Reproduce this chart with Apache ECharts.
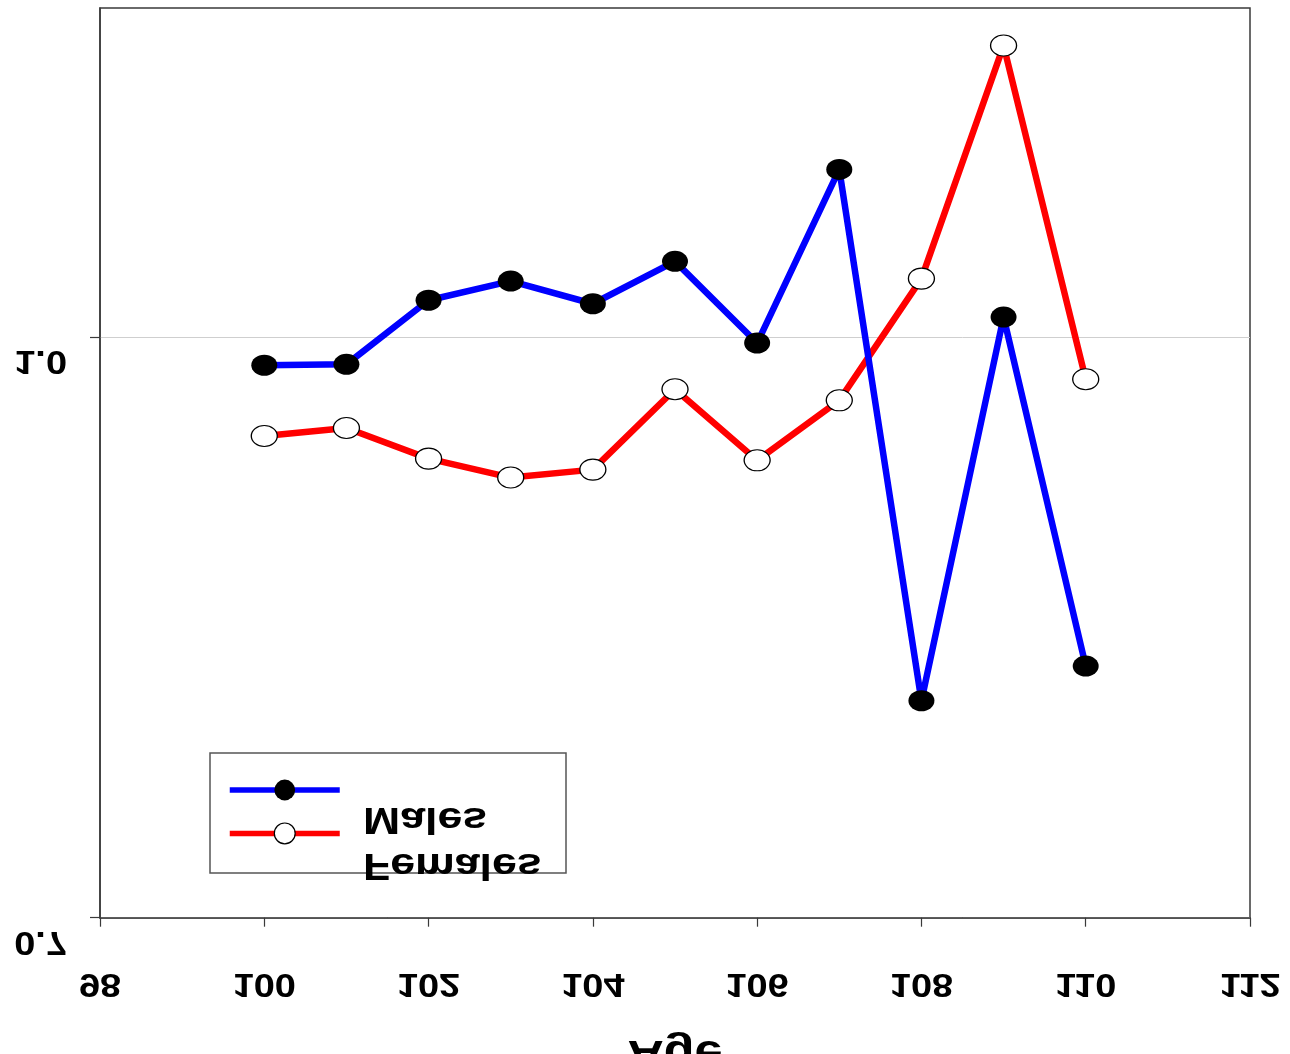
<!DOCTYPE html>
<html>
<head>
<meta charset="utf-8">
<title>Age</title>
<script src="https://cdn.jsdelivr.net/npm/echarts@6/dist/echarts.min.js"></script>
<style>
  html, body { margin: 0; padding: 0; background: #fff; }
  #chart { width: 1290px; height: 1054px; }
</style>
</head>
<body>
<div id="chart"></div>
<script>
// Ages on the x axis
const ages = [100, 101, 102, 103, 104, 105, 106, 107, 108, 109, 110];
// Ratio values per age
const males   = [0.9854, 0.9859, 1.0190, 1.0289, 1.0172, 1.0391, 0.9969, 1.0866, 0.8121, 1.0103, 0.8300];
const females = [0.9489, 0.9530, 0.9372, 0.9274, 0.9315, 0.9730, 0.9363, 0.9673, 1.0302, 1.1506, 0.9782];
// Tick labels
const xTicks = [98, 100, 102, 104, 106, 108, 110, 112];
const yTicks = [0.7, 1.0];
const yTickLabels = ['0.7', '1.0'];
const seriesNames = ['Males', 'Females'];
const xTitle = 'Age';

const FONT = 'Liberation Sans';
const AXIS = '#3a3a3a';

const chart = echarts.init(document.getElementById('chart'), null, { renderer: 'canvas' });

chart.setOption({
  animation: false,
  backgroundColor: '#ffffff',
  grid: {
    left: 100, right: 40, top: 8, bottom: 136.3,
    show: true, borderColor: AXIS, borderWidth: 1.5, backgroundColor: 'transparent'
  },
  xAxis: {
    type: 'value', min: 98, max: 112, interval: 2,
    axisLine: { show: true, lineStyle: { color: AXIS, width: 1.5 } },
    axisTick: { show: true, inside: false, length: 9, lineStyle: { color: AXIS, width: 1.2 } },
    axisLabel: { show: false },
    splitLine: { show: false }
  },
  yAxis: {
    type: 'value', min: 0.7, max: 1.17,
    axisLine: { show: true, lineStyle: { color: AXIS, width: 1.5 } },
    axisTick: { show: true, inside: false, length: 10, customValues: yTicks, lineStyle: { color: AXIS, width: 1.2 } },
    axisLabel: { show: false, customValues: yTicks },
    splitLine: { show: true, lineStyle: { color: '#cfcfcf', width: 1 } }
  },
  legend: {
    orient: 'vertical', left: 227, top: 777, padding: 0,
    itemWidth: 110, itemHeight: 26, itemGap: 20,
    formatter: () => '',
    lineStyle: { width: 5.5 },
    data: [
      { name: seriesNames[0], itemStyle: { color: '#000', borderWidth: 0 } },
      { name: seriesNames[1], itemStyle: { color: '#fff', borderColor: '#000', borderWidth: 1.2 } }
    ]
  },
  series: [
    {
      name: seriesNames[0], type: 'line',
      data: ages.map((a, i) => [a, males[i]]),
      symbol: 'circle', symbolSize: [26, 21], showAllSymbol: true,
      lineStyle: { color: '#0000ff', width: 6.5 },
      itemStyle: { color: '#000000', borderWidth: 0 },
      z: 3
    },
    {
      name: seriesNames[1], type: 'line',
      data: ages.map((a, i) => [a, females[i]]),
      symbol: 'circle', symbolSize: [26, 21], showAllSymbol: true,
      lineStyle: { color: '#ff0000', width: 6.5 },
      itemStyle: { color: '#ffffff', borderColor: '#000000', borderWidth: 1.2 },
      z: 2
    }
  ]
});

// Mirrored text labels placed against the axis scales
function mirrored(text, x, y, size, align, sx) {
  return {
    type: 'text', x: x, y: y, scaleX: sx, scaleY: -1, z: 10,
    style: {
      text: text, fill: '#000', font: 'bold ' + size + 'px "' + FONT + '"',
      textAlign: align, textVerticalAlign: 'middle'
    }
  };
}

const graphics = [];
// legend frame
graphics.push({
  type: 'rect', z: 0,
  shape: { x: 210, y: 753, width: 356, height: 120 },
  style: { fill: '#fff', stroke: '#555', lineWidth: 1.5 }
});

xTicks.forEach(v => {
  const px = chart.convertToPixel({ xAxisIndex: 0 }, v);
  graphics.push(mirrored(String(v), px, 983.5, 33, 'center', 1.15));
});
yTicks.forEach((v, i) => {
  const py = chart.convertToPixel({ yAxisIndex: 0 }, v);
  graphics.push(mirrored(yTickLabels[i], 67, py + 23.5, 33, 'right', 1.15));
});
graphics.push(mirrored(seriesNames[0], 363, 817.5, 36, 'left', 1.24));
graphics.push(mirrored(seriesNames[1], 363, 863.5, 36, 'left', 1.24));
graphics.push(mirrored(xTitle, 675, 1052.5, 42, 'center', 1.2));

chart.setOption({ graphic: graphics });
</script>
</body>
</html>
